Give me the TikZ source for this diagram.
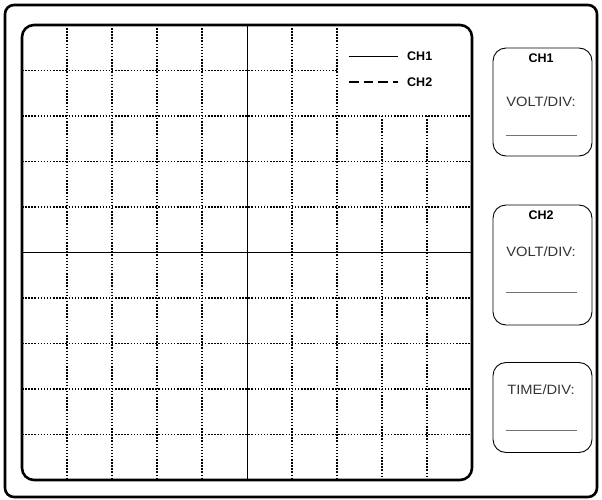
\documentclass[tikz,border=0pt]{standalone}
\usepackage{fontspec}
\setmainfont{Liberation Sans}
\usetikzlibrary{positioning}
\newcommand{\widetxt}[1]{\scalebox{1.09}[1]{#1}}
\begin{document}
\begin{tikzpicture}[x=1pt,y=-1pt,
   frame/.style={line width=2.6pt,rounded corners=9pt},
   gridln/.style={line width=1.4pt,dash pattern=on 1.5pt off 1.6pt},
   axisln/.style={line width=1pt},
   knob/.style={draw,line width=0.9pt,rounded corners=13pt,minimum width=99pt,inner sep=0pt},
   lbl/.style={font=\fontsize{12.5}{14}\selectfont\bfseries,inner sep=0pt},
   divtext/.style={font=\fontsize{13.5}{15}\selectfont,text=black!80,inner sep=0pt},
   blank/.style={draw=black!55,line width=1pt}]
  \useasboundingbox (0,0) rectangle (602,500);
  % grid
  \foreach \x in {67,112,157,202,292,337} \draw[gridln] (\x,25) -- (\x,480);
  \foreach \x in {382,427} \draw[gridln] (\x,116) -- (\x,480);
  \foreach \y in {116,161.5,207,298,343.5,389,434.5} \draw[gridln] (22,\y) -- (472,\y);
  \draw[gridln] (22,70.5) -- (337,70.5);
  % axes
  \draw[axisln] (247,25) -- (247,480);
  \draw[axisln] (22,252.5) -- (472,252.5);
  % frames
  \draw[frame] (5,5) rectangle (597,497);
  \draw[frame,rounded corners=12pt] (22,25) rectangle (472,480);
  % legend
  \coordinate (sa) at (349,56.5);  \coordinate (sb) at (398,56.5);
  \coordinate (da) at (349,82);  \coordinate (db) at (398,82);
  \draw[line width=1.3pt] (sa) -- (sb);
  \draw[line width=1.3pt,dash pattern=on 9.5pt off 5pt] (da) -- (db);
  \node[lbl,right=9pt of sb] (leg1) {CH1};
  \node[lbl,right=9pt of db] (leg2) {CH2};
  % channel 1
  \node[knob,minimum height=108pt] (box1) at (542.5,102) {};
  \node[lbl] (ch1) at (541,58) {CH1};
  \node[divtext] (volt1) at (541,102) {\widetxt{VOLT/DIV:}};
  \draw[blank] (506,136) -- (577,136);
  % channel 2
  \node[knob,minimum height=120pt] (box2) at (542.5,265) {};
  \node[lbl] (ch2) at (541,215) {CH2};
  \node[divtext] (volt2) at (541,252) {\widetxt{VOLT/DIV:}};
  \draw[blank] (506,292) -- (577,292);
  % time base
  \node[knob,minimum height=90pt] (box3) at (542.5,407.5) {};
  \node[divtext] (tdiv) at (541,390) {\widetxt{TIME/DIV:}};
  \draw[blank] (506,430) -- (577,430);
\end{tikzpicture}
\end{document}
